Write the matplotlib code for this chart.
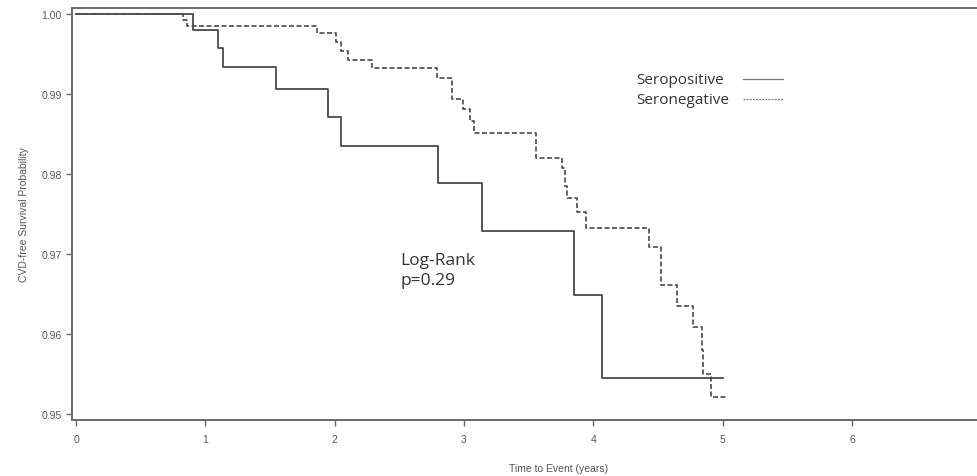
import matplotlib
matplotlib.use("Agg")
import matplotlib.pyplot as plt
from matplotlib.lines import Line2D

# Kaplan-Meier step values
pos_time = [0, 0.905, 1.10, 1.14, 1.55, 1.95, 2.05, 2.80, 3.14, 3.85, 4.07, 5.00]
pos_surv = [1.0, 0.9980, 0.99575, 0.99338, 0.99063, 0.98713, 0.9835, 0.97888,
            0.97288, 0.96488, 0.9545, 0.9545]

neg_time = [0, 0.83, 0.86, 1.86, 2.01, 2.05, 2.10, 2.29, 2.79, 2.91, 2.99, 3.05,
            3.08, 3.56, 3.76, 3.78, 3.80, 3.87, 3.94, 4.43, 4.52, 4.65, 4.77,
            4.84, 4.85, 4.91, 5.03]
neg_surv = [1.0, 0.9993, 0.9985, 0.99763, 0.99654, 0.99541, 0.99425, 0.99321,
            0.9920, 0.98938, 0.98813, 0.98663, 0.98513, 0.98196, 0.9808, 0.9785,
            0.9770, 0.9753, 0.97325, 0.97088, 0.96613, 0.9635, 0.96088, 0.9580,
            0.9550, 0.95213, 0.95213]

yticks = [0.95, 0.96, 0.97, 0.98, 0.99, 1.00]
xticks = [0, 1, 2, 3, 4, 5, 6, 7]
labels = ["Seropositive", "Seronegative"]
styles = ["-", (0, (3, 1.5))]

line_col = "#4a4a4a"
axis_col = "#6a6a6a"
text_col = "#555555"

fig = plt.figure(figsize=(9.77, 4.77), dpi=100)
ax = fig.add_axes([72 / 977, 56 / 477, 974 / 977, 412 / 477])

ax.plot(pos_time, pos_surv, drawstyle="steps-post", color=line_col, lw=1.3,
        linestyle=styles[0])
ax.plot(neg_time, neg_surv, drawstyle="steps-post", color=line_col, lw=1.2,
        linestyle=styles[1])

ax.set_xlim(-0.031, 7.5)
ax.set_ylim(0.94925, 1.00075)
ax.set_xticks(xticks)
ax.set_yticks(yticks)
ax.set_yticklabels(["%.2f" % v for v in yticks])

for s in ax.spines.values():
    s.set_color(axis_col)
    s.set_linewidth(1.4)
ax.tick_params(direction="out", length=4, width=1, color=axis_col,
               labelcolor=text_col, labelsize=7.5)
for lab in ax.get_xticklabels() + ax.get_yticklabels():
    lab.set_fontfamily("Liberation Sans")
ax.tick_params(axis="x", pad=6)

ax.set_xlabel("Time to Event (years)", fontsize=7.5, color=text_col,
              family="Liberation Sans", labelpad=14)
ax.set_ylabel("CVD-free Survival Probability", fontsize=7.5, color=text_col,
              family="Liberation Sans", labelpad=9)

# legend as a small table: label column, then line sample
for i, (lab, ls) in enumerate(zip(labels, styles)):
    yy = 1 - (80 + 20 * i) / 477
    fig.text(636 / 977, yy, lab, fontsize=11, family="Open Sans",
             color="#333333", va="center", ha="left")
    fig.add_artist(Line2D([743 / 977, 783 / 977], [yy, yy], color="#777777",
                          lw=0.9, linestyle=ls if i == 0 else (0, (1.5, 1))))

ax.text(2.51, 0.968, "Log-Rank\np=0.29", fontsize=12.5, family="Open Sans",
        color="#333333", va="center", linespacing=1.3)

fig.savefig("out.png", dpi=100)
